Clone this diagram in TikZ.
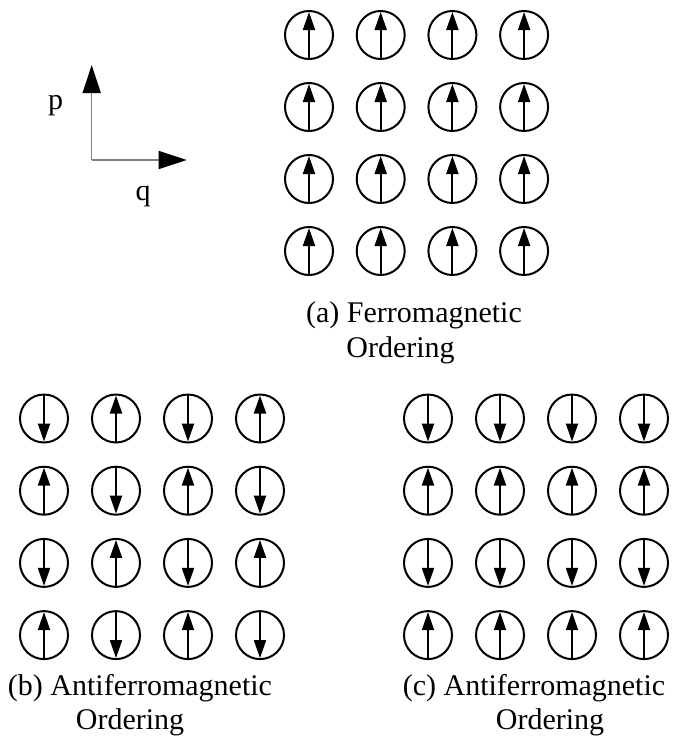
\documentclass[tikz,border=0pt]{standalone}
\usepackage{fontspec}
\setmainfont{Liberation Serif}
\usetikzlibrary{arrows.meta}
\tikzset{
  spin/.style={circle,draw,line width=2pt,minimum size=48pt,inner sep=0pt,outer sep=0pt},
  spinarrow/.style={line width=2pt,-{Triangle[length=18pt,width=12pt]},shorten >=1pt},
  axisarrow/.style={draw=gray,line width=1.5pt,-{Triangle[length=28pt,width=18pt,color=black]}},
  lbl/.style={font=\fontsize{30}{36}\selectfont,inner sep=0pt,anchor=base},
}
\begin{document}
\begin{tikzpicture}[x=1pt,y=-1pt]
\useasboundingbox (0,0) rectangle (677,744);
% axes
\coordinate (origin) at (91.7,160);
\coordinate (ptip) at (91.7,65);
\coordinate (qtip) at (186.7,160);
\draw[axisarrow] (origin) -- (ptip);
\draw[axisarrow] (origin) -- (qtip);
\node[lbl] (plabel) at (55.5,109) {p};
\node[lbl] (qlabel) at (143,200) {q};
% (a) ferromagnetic
\foreach \r in {0,...,3} {
  \foreach \c in {0,...,3} {
    \node[spin] (a\r\c) at ({309+71.7*\c},{35+72*\r}) {};
    \draw[spinarrow] (a\r\c.south) -- (a\r\c.north);
  }
}
% (b) antiferromagnetic checkerboard
\foreach \r in {0,...,3} {
  \foreach \c in {0,...,3} {
    \node[spin] (b\r\c) at ({44+72*\c},{418.5+72.2*\r}) {};
    \ifodd\numexpr\r+\c\relax
      \draw[spinarrow] (b\r\c.south) -- (b\r\c.north);
    \else
      \draw[spinarrow] (b\r\c.north) -- (b\r\c.south);
    \fi
  }
}
% (c) antiferromagnetic rows
\foreach \r in {0,...,3} {
  \foreach \c in {0,...,3} {
    \node[spin] (c\r\c) at ({428+72*\c},{418.5+72.2*\r}) {};
    \ifodd\r
      \draw[spinarrow] (c\r\c.south) -- (c\r\c.north);
    \else
      \draw[spinarrow] (c\r\c.north) -- (c\r\c.south);
    \fi
  }
}
% captions
\node[lbl] (capa1) at (414,322) {(a) Ferromagnetic};
\node[lbl] (capa2) at (400.5,357) {Ordering};
\node[lbl] (capb1) at (140,695) {(b) Antiferromagnetic};
\node[lbl] (capb2) at (130,729.5) {Ordering};
\node[lbl] (capc1) at (534,695) {(c) Antiferromagnetic};
\node[lbl] (capc2) at (550,729.5) {Ordering};
\end{tikzpicture}
\end{document}
